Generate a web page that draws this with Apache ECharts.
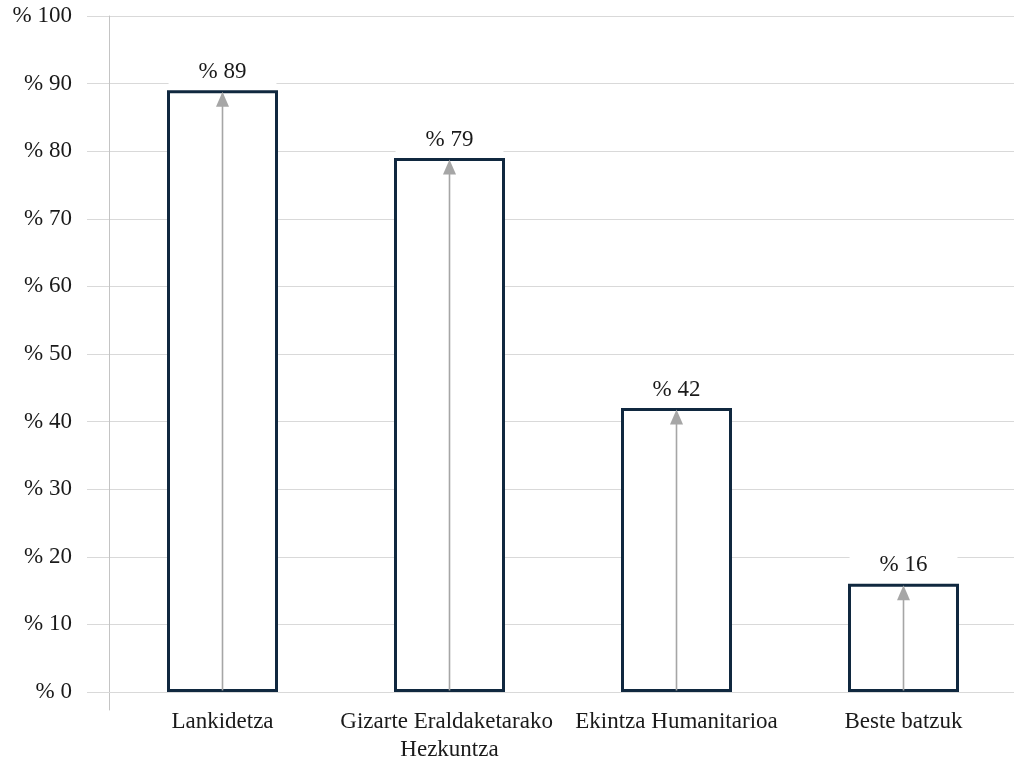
<!DOCTYPE html>
<html>
<head>
<meta charset="utf-8">
<script src="https://cdn.jsdelivr.net/npm/echarts@6/dist/echarts.min.js"></script>
<style>
html,body{margin:0;padding:0;background:#fff;}
#chart{width:1014px;height:764px;}
</style>
</head>
<body>
<div id="chart"></div>
<script>
const categories = ['Lankidetza', 'Gizarte Eraldaketarako Hezkuntza', 'Ekintza Humanitarioa', 'Beste batzuk'];
const values = [89, 79, 42, 16];
const yTicks = { min: 0, max: 100, interval: 10 };

const FONT = '"Liberation Serif", "DejaVu Serif", serif';
const TEXT = '#1a1a1a';
const GRID = '#d9d9d9';

const chart = echarts.init(document.getElementById('chart'));
chart.setOption({
  animation: false,
  backgroundColor: '#fff',
  grid: [
    { left: 109, top: 16, width: 908, height: 676, outerBoundsMode: 'none', containLabel: false },
    { left: 109, top: 16, width: 1, height: 694, outerBoundsMode: 'none', containLabel: false }
  ],
  xAxis: [
    {
      type: 'category', gridIndex: 0, data: categories,
      axisLine: { show: true, lineStyle: { color: GRID, width: 1 } },
      axisTick: { show: false },
      axisLabel: {
        interval: 0, color: TEXT, fontFamily: FONT, fontSize: 23, margin: 16,
        width: 224, overflow: 'break', lineHeight: 28
      }
    },
    { type: 'value', gridIndex: 1, show: false }
  ],
  yAxis: [
    {
      type: 'value', gridIndex: 0, min: yTicks.min, max: yTicks.max, interval: yTicks.interval,
      axisLine: { show: false },
      axisTick: { show: true, length: 22, lineStyle: { color: GRID } },
      splitLine: { show: true, lineStyle: { color: GRID, width: 1 } },
      axisLabel: {
        color: TEXT, fontFamily: FONT, fontSize: 23, margin: 37,
        formatter: v => '% ' + v
      }
    },
    {
      type: 'value', gridIndex: 1, min: 0, max: 1,
      axisLine: { show: true, lineStyle: { color: '#c4c4c4', width: 1 } },
      axisTick: { show: false }, axisLabel: { show: false }, splitLine: { show: false }
    }
  ],
  series: [
    {
      type: 'bar', xAxisIndex: 0, yAxisIndex: 0, data: values, barWidth: 111,
      itemStyle: { color: '#fff', borderColor: '#10283f', borderWidth: 3 },
      label: {
        show: true, position: 'top', distance: 6,
        formatter: p => '% ' + p.value,
        color: TEXT, fontFamily: FONT, fontSize: 23,
        backgroundColor: '#fff', padding: [1, 30, 1, 30]
      },
      z: 2
    },
    {
      type: 'custom', xAxisIndex: 0, yAxisIndex: 0, data: values.map((v, i) => [i, v]), z: 3,
      renderItem: function (params, api) {
        const idx = api.value(0);
        const p0 = api.coord([idx, 0]);
        const p1 = api.coord([idx, api.value(1)]);
        const top = p1[1] + 1.5;
        const ah = 15, aw = 6.5;
        return {
          type: 'group',
          children: [
            { type: 'line', shape: { x1: p0[0], y1: p0[1] - 1.5, x2: p1[0], y2: top + ah - 2 },
              style: { stroke: '#a6a6a6', lineWidth: 1.6 } },
            { type: 'polygon', shape: { points: [[p1[0], top], [p1[0] - aw, top + ah], [p1[0] + aw, top + ah]] },
              style: { fill: '#a6a6a6' } }
          ]
        };
      }
    }
  ]
});
</script>
</body>
</html>
